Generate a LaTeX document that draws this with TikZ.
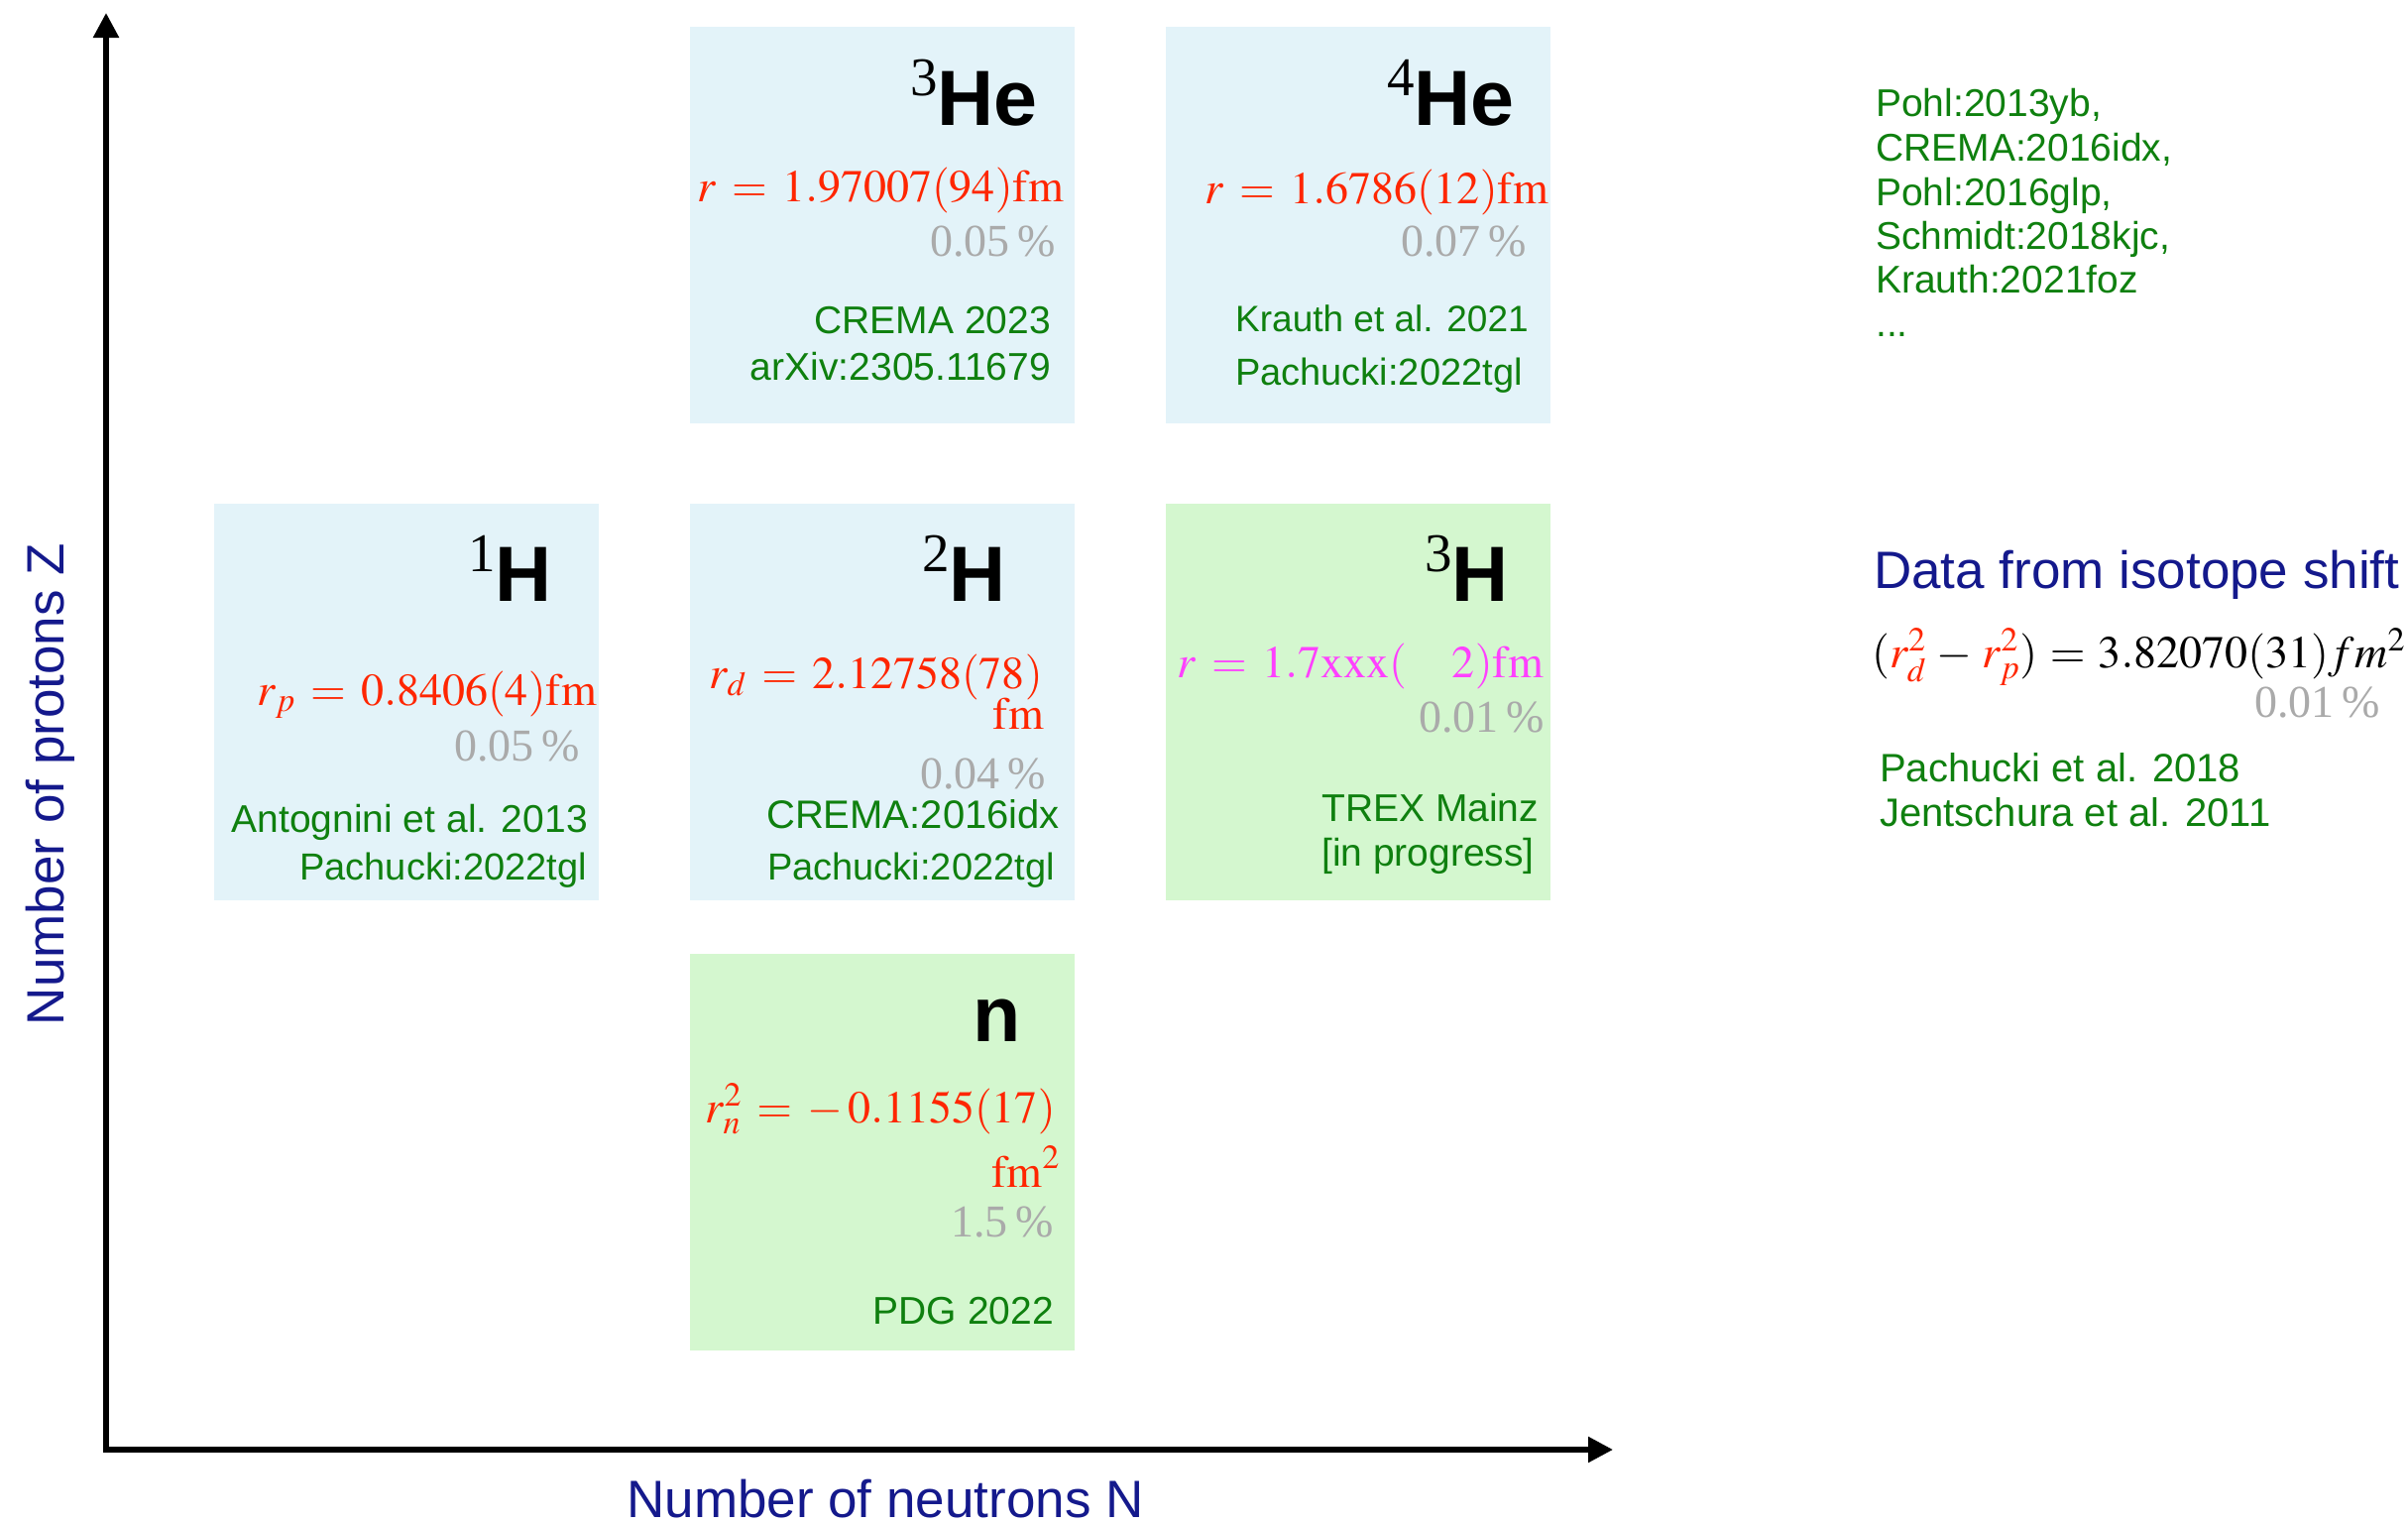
\documentclass[tikz,border=0pt]{standalone}
\usepackage{mathptmx}
\usepackage{fontspec}
\setmainfont{Liberation Serif}
\setsansfont{Liberation Sans}
\usetikzlibrary{arrows.meta}
\definecolor{boxblue}{RGB}{227,243,249}
\definecolor{boxgreen}{RGB}{212,247,207}
\definecolor{valred}{RGB}{255,38,0}
\definecolor{valmag}{RGB}{255,64,255}
\definecolor{pctgray}{RGB}{170,170,170}
\definecolor{refgreen}{RGB}{15,128,15}
\definecolor{navy}{RGB}{20,25,140}
\newcommand\fsz[1]{\fontsize{#1}{#1}\selectfont}
\newcommand\sups[1]{\raisebox{30pt}{\rmfamily\mdseries\fsz{55}#1}}
\thickmuskip=6mu plus 2mu
\medmuskip=4.5mu plus 2mu minus 1mu
\tikzset{
  cell/.style={inner sep=0pt, outer sep=0pt, draw=none, anchor=north west, minimum width=388pt, minimum height=400pt},
  bluebox/.style={cell, fill=boxblue},
  greenbox/.style={cell, fill=boxgreen},
  head/.style={anchor=base east, inner sep=0pt, font=\sffamily\bfseries\fsz{79}},
  val/.style={anchor=base east, inner sep=0pt, text=valred, font=\rmfamily\fsz{46}},
  pct/.style={anchor=base east, inner sep=0pt, text=pctgray, font=\rmfamily\fsz{46}},
  ref/.style={inner sep=0pt, text=refgreen, font=\sffamily\fsz{39}},
  axis/.style={line width=5.5pt, line cap=rect, -{Triangle[length=25pt,width=25pt]}},
  axlabel/.style={inner sep=0pt, text=navy, font=\sffamily\fsz{53}},
}
\begin{document}
\begin{tikzpicture}[x=1pt,y=-1pt]
\useasboundingbox (0,0) rectangle (2429,1537);

% boxes
\node[bluebox]  (bHeThree) at (696,27)  {};
\node[bluebox]  (bHeFour)  at (1176,27) {};
\node[bluebox]  (bHOne)    at (216,508) {};
\node[bluebox]  (bHTwo)    at (696,508) {};
\node[greenbox] (bHThree)  at (1176,508) {};
\node[greenbox] (bN)       at (696,962) {};

% 3He
\node[head] (hHeThree) at (1047,126) {\sups{3}He};
\node[val]  (vHeThree) at (1073,203) {$r = 1.97007(94)\mathrm{fm}$};
\node[pct]  (pHeThree) at (1065,258) {0.05\,\%};
\node[ref,anchor=base east] (rHeThreeA) at (1060,336) {CREMA 2023};
\node[ref,anchor=base east] (rHeThreeB) at (1060,383) {arXiv:2305.11679};

% 4He
\node[head] (hHeFour) at (1528,126) {\sups{4}He};
\node[val]  (vHeFour) at (1562,205) {$r = 1.6786(12)\mathrm{fm}$};
\node[pct]  (pHeFour) at (1540,258) {0.07\,\%};
\node[ref,anchor=base west,font=\sffamily\fsz{37}] (rHeFourA) at (1246,334) {Krauth et al. 2021};
\node[ref,anchor=base west,font=\sffamily\fsz{38}] (rHeFourB) at (1246,388) {Pachucki:2022tgl};

% 1H
\node[head] (hHOne) at (557,606) {\sups{1}H};
\node[val]  (vHOne) at (602,711) {$r_p = 0.8406(4)\mathrm{fm}$};
\node[pct]  (pHOne) at (585,767) {0.05\,\%};
\node[ref,anchor=base east] (rHOneA) at (593,839) {Antognini et al. 2013};
\node[ref,anchor=base east,font=\sffamily\fsz{38}] (rHOneB) at (592,887) {Pachucki:2022tgl};

% 2H
\node[head] (hHTwo) at (1015,606) {\sups{2}H};
\node[val]  (vHTwoA) at (1052,694) {$r_d = 2.12758(78)$};
\node[val]  (vHTwoB) at (1053,735) {$\mathrm{fm}$};
\node[pct]  (pHTwo) at (1055,795) {0.04\,\%};
\node[ref,anchor=base west,font=\sffamily\fsz{40}] (rHTwoA) at (773,835) {CREMA:2016idx};
\node[ref,anchor=base west,font=\sffamily\fsz{38}] (rHTwoB) at (774,887) {Pachucki:2022tgl};

% 3H
\node[head] (hHThree) at (1522,606) {\sups{3}H};
\node[val,text=valmag] (vHThree) at (1557,683) {$r = 1.7\mathrm{xxx}(\phantom{00}2)\mathrm{fm}$};
\node[pct]  (pHThree) at (1558,738) {0.01\,\%};
\node[ref,anchor=base west] (rHThreeA) at (1333,828) {TREX Mainz};
\node[ref,anchor=base west] (rHThreeB) at (1333,873) {[in progress]};

% n
\node[head] (hN) at (1030,1050) {n};
\node[val]  (vNA) at (1065,1132) {$r_n^2 = -\,0.1155(17)$};
\node[val]  (vNB) at (1069,1197) {$\mathrm{fm}^2$};
\node[pct]  (pN) at (1063,1247) {1.5\,\%};
\node[ref,anchor=base east] (rN) at (1063,1335) {PDG 2022};

% right column
\node[ref,anchor=base west] (lA) at (1892,117) {Pohl:2013yb,};
\node[ref,anchor=base west] (lB) at (1892,162) {CREMA:2016idx,};
\node[ref,anchor=base west] (lC) at (1892,207) {Pohl:2016glp,};
\node[ref,anchor=base west] (lD) at (1892,251) {Schmidt:2018kjc,};
\node[ref,anchor=base west] (lE) at (1892,295) {Krauth:2021foz};
\node[ref,anchor=base west] (lF) at (1892,339) {...};

\node[axlabel,anchor=base west] (iso) at (1890,593) {Data from isotope shift};
\node[anchor=base west,inner sep=0pt,font=\rmfamily\fsz{46}] (isoF) at (1888,673)
  {\thickmuskip=5mu\medmuskip=4mu$(\textcolor{valred}{r_d^2} - \textcolor{valred}{r_p^2}) = 3.82070(31) fm^2$};
\node[pct] (isoP) at (2401,723) {0.01\,\%};
\node[ref,anchor=base west,font=\sffamily\fsz{40}] (isoA) at (1896,788) {Pachucki et al. 2018};
\node[ref,anchor=base west,font=\sffamily\fsz{40}] (isoB) at (1896,833) {Jentschura et al. 2011};

% axes
\coordinate (O) at (107,1462);
\coordinate (ytip) at (107,13);
\coordinate (xtip) at (1627,1462);
\draw[axis] (O) -- (ytip);
\draw[axis] (O) -- (xtip);
\node[axlabel,anchor=base] (xlab) at (893,1530) {Number of neutrons N};
\node[axlabel,anchor=base,rotate=90] (ylab) at (64,791) {Number of protons Z};
\end{tikzpicture}
\end{document}
